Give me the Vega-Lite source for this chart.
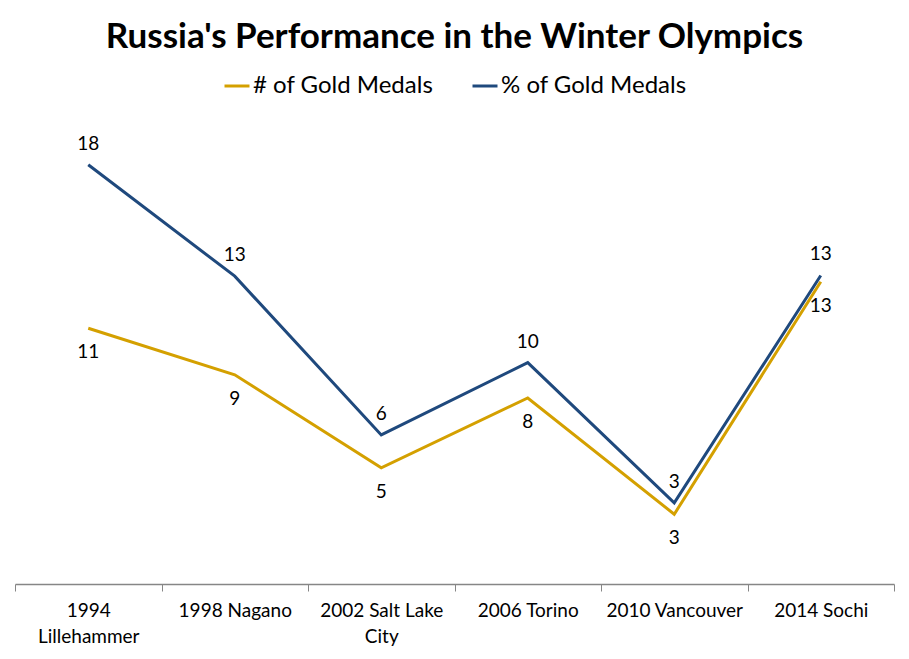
{
  "$schema": "https://vega.github.io/schema/vega-lite/v6.json",
  "width": 879,
  "height": 465,
  "autosize": {"type": "none"},
  "padding": {"left": 15, "top": 119, "right": 15, "bottom": 75},
  "background": "#ffffff",
  "config": {
    "view": {"stroke": null},
    "font": "Lato",
    "text": {"font": "Lato"}
  },
  "title": {
    "text": "Russia's Performance in the Winter Olympics",
    "font": "Lato",
    "fontSize": 35,
    "fontWeight": "bold",
    "color": "#000000",
    "anchor": "middle",
    "frame": "group",
    "offset": 17
  },
  "data": {
    "values": [
      {"games": "1994 Lillehammer", "series": "# of Gold Medals", "value": 11},
      {"games": "1998 Nagano", "series": "# of Gold Medals", "value": 9},
      {"games": "2002 Salt Lake City", "series": "# of Gold Medals", "value": 5},
      {"games": "2006 Torino", "series": "# of Gold Medals", "value": 8},
      {"games": "2010 Vancouver", "series": "# of Gold Medals", "value": 3},
      {"games": "2014 Sochi", "series": "# of Gold Medals", "value": 13},
      {"games": "1994 Lillehammer", "series": "% of Gold Medals", "value": 18.03},
      {"games": "1998 Nagano", "series": "% of Gold Medals", "value": 13.24},
      {"games": "2002 Salt Lake City", "series": "% of Gold Medals", "value": 6.41},
      {"games": "2006 Torino", "series": "% of Gold Medals", "value": 9.52},
      {"games": "2010 Vancouver", "series": "% of Gold Medals", "value": 3.49},
      {"games": "2014 Sochi", "series": "% of Gold Medals", "value": 13.27}
    ]
  },
  "encoding": {
    "x": {
      "field": "games",
      "type": "nominal",
      "sort": null,
      "scale": {"type": "band", "paddingInner": 0, "paddingOuter": 0},
      "axis": {
        "title": null,
        "labelAngle": 0,
        "labelFont": "Lato",
        "labelFontSize": 19,
        "labelColor": "#000000",
        "labelPadding": 10,
        "labelLineHeight": 26,
        "labelBaseline": "top",
        "labelExpr": "datum.value == '1994 Lillehammer' ? ['1994', 'Lillehammer'] : datum.value == '2002 Salt Lake City' ? ['2002 Salt Lake', 'City'] : datum.value",
        "tickBand": "extent",
        "tickSize": 7,
        "tickColor": "#868686",
        "domainColor": "#868686",
        "domainWidth": 1.5,
        "grid": false
      }
    },
    "y": {
      "field": "value",
      "type": "quantitative",
      "scale": {"domain": [0, 20], "nice": false},
      "axis": null
    }
  },
  "layer": [
    {
      "mark": {"type": "line", "strokeWidth": 3},
      "encoding": {
        "color": {
          "field": "series",
          "type": "nominal",
          "scale": {"domain": ["# of Gold Medals", "% of Gold Medals"], "range": ["#D4A000", "#1F497D"]},
          "legend": {
            "title": null,
            "orient": "none",
            "direction": "horizontal",
            "legendX": 208,
            "legendY": -47,
            "symbolType": "stroke",
            "symbolSize": 625,
            "symbolStrokeWidth": 3,
            "labelFont": "Lato",
            "labelFontSize": 24,
            "labelColor": "#000000",
            "labelOffset": 2,
            "columnPadding": 32,
            "labelLimit": 300
          }
        }
      }
    },
    {
      "transform": [{"filter": "datum.series == '% of Gold Medals'"}],
      "mark": {"type": "text", "dy": -21, "fontSize": 19, "color": "#000000"},
      "encoding": {"text": {"field": "value", "type": "quantitative", "format": ".0f"}}
    },
    {
      "transform": [{"filter": "datum.series == '# of Gold Medals'"}],
      "mark": {"type": "text", "dy": 24, "fontSize": 19, "color": "#000000"},
      "encoding": {"text": {"field": "value", "type": "quantitative", "format": ".0f"}}
    }
  ]
}
